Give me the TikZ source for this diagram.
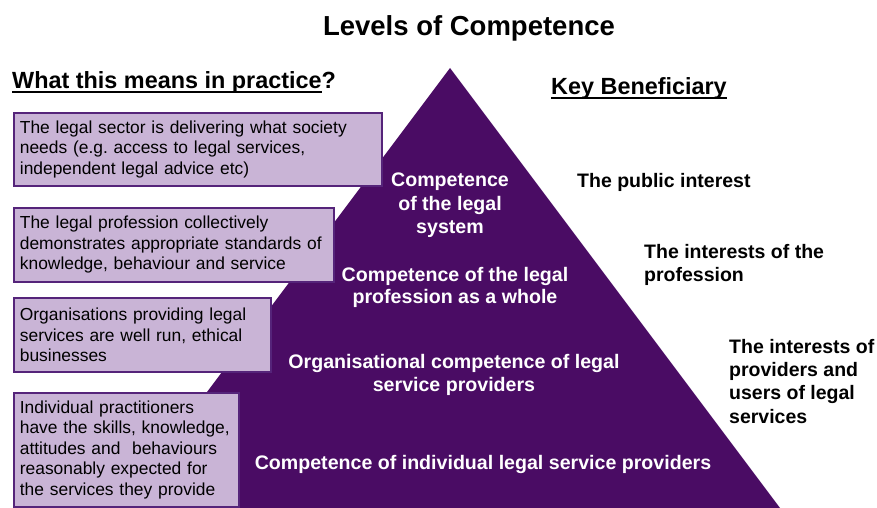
\documentclass[tikz,border=0pt]{standalone}
\usepackage{fontspec}
\setmainfont{Liberation Sans}
\definecolor{pyramid}{HTML}{4A0C64}
\definecolor{boxfill}{HTML}{C9B4D6}
\definecolor{boxline}{HTML}{55247A}
% underline drawn at a fixed depth below the baseline
\newcommand\ulbar[1]{\setbox0\hbox{#1}\rlap{\rule[-4.2pt]{\wd0}{1.8pt}}\box0}
\begin{document}
\begin{tikzpicture}[x=1pt,y=-1pt,
  heading/.style={font=\bfseries\fontsize{23.4}{27}\selectfont, anchor=base west, inner sep=0pt},
  level/.style={font=\bfseries\fontsize{19.6}{23.5}\selectfont, text=white, align=center, inner sep=0pt},
  benef/.style={font=\bfseries\fontsize{19.5}{23.3}\selectfont, align=left, anchor=north west, inner sep=0pt},
  practice/.style={draw=boxline, line width=1.8pt, fill=boxfill, anchor=north west,
    font=\fontsize{17.4}{20.5}\selectfont, align=left, inner xsep=6pt, inner ysep=0pt}]
\useasboundingbox (0,0) rectangle (877,508);
\fill[white] (0,0) rectangle (877,508);

% title
\node[font=\bfseries\fontsize{27.5}{32}\selectfont, anchor=base, inner sep=0pt] (title) at (469,36) {Levels of Competence};

% the pyramid
\fill[pyramid] (120,508) -- (450,68) -- (780,508) -- cycle;

% column headings
\node[heading] (practicehead) at (12,89) {\ulbar{What this means in practice}?};
\node[heading] (benefhead) at (551,95) {\ulbar{Key Beneficiary}};

% levels inside the pyramid
\node[level] (lsys) at (450,205.5) {Competence\\of the legal\\system};
\node[level, font=\bfseries\fontsize{19.6}{21.6}\selectfont] (lprof) at (455,287.5) {Competence of the legal\\profession as a whole};
\node[level] (lorg) at (454,375) {Organisational competence of legal\\service providers};
\node[level] (lind) at (483,464) {Competence of individual legal service providers};

% what each level means in practice
\node[practice, minimum width=368, minimum height=73, text width=356] (psys) at (13,112)
  {The legal sector is delivering what society\\needs (e.g.\ access to legal services,\\independent legal advice etc)};
\node[practice, minimum width=320, minimum height=74, text width=308] (pprof) at (13,207)
  {The legal profession collectively\\demonstrates appropriate standards of\\knowledge, behaviour and service};
\node[practice, minimum width=257, minimum height=74, text width=245] (porg) at (13,297)
  {Organisations providing legal\\services are well run, ethical\\businesses};
\node[practice, minimum width=225, minimum height=114, text width=213] (pind) at (13,392)
  {Individual practitioners\\have the skills, knowledge,\\attitudes and\ \ behaviours\\reasonably expected for\\the services they provide};

% key beneficiaries
\node[benef] (bpub) at (577,172.8) {The public interest};
\node[benef] (bprof) at (644,244) {The interests of the\\profession};
\node[benef] (busers) at (729,339) {The interests of\\providers and\\users of legal\\services};
\end{tikzpicture}
\end{document}
